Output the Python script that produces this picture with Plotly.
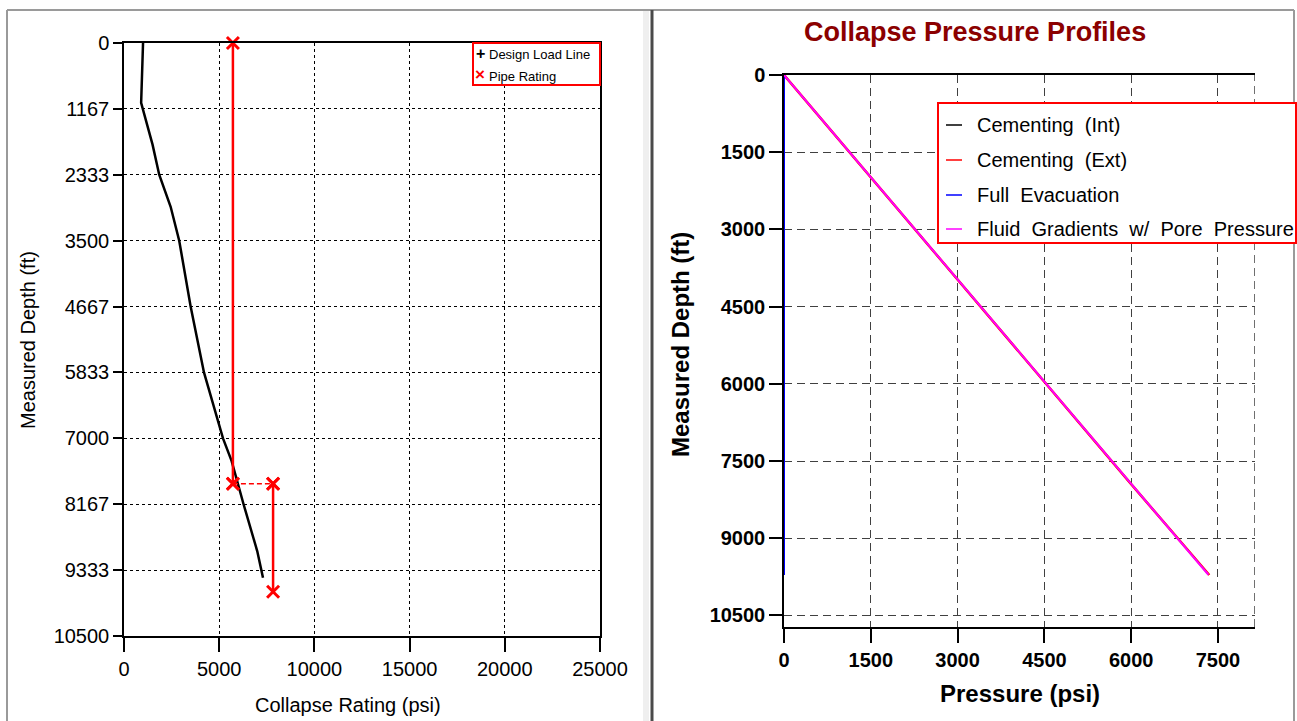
import plotly.graph_objects as go

# ---------------- data ----------------
# Left panel: collapse design check
depth_ticks = [0, 1167, 2333, 3500, 4667, 5833, 7000, 8167, 9333, 10500]
rating_ticks = [0, 5000, 10000, 15000, 20000, 25000]

design_load_psi = [1000, 950, 900, 1500, 1850, 2450, 2900, 3500, 4200, 5200, 5650, 6280, 7000, 7300]
design_load_depth = [0, 500, 1060, 1800, 2333, 2900, 3500, 4667, 5833, 7000, 7400, 8167, 9000, 9469]

pipe_rating_upper_psi = [5720, 5720]
pipe_rating_upper_depth = [0, 7805]
pipe_rating_step_psi = [5720, 7830]
pipe_rating_step_depth = [7805, 7805]
pipe_rating_lower_psi = [7830, 7830]
pipe_rating_lower_depth = [7805, 9717]

# Right panel: collapse pressure profiles
pressure_ticks = [0, 1500, 3000, 4500, 6000, 7500]
profile_depth_ticks = [0, 1500, 3000, 4500, 6000, 7500, 9000, 10500]

cement_int_psi = [0, 0]
cement_int_depth = [0, 9715]
cement_ext_psi = [0, 6000, 7350]
cement_ext_depth = [0, 7950, 9715]
full_evac_psi = [0, 0]
full_evac_depth = [0, 9715]
pore_psi = [0, 6000, 7335]
pore_depth = [0, 7935, 9710]

profile_names = ["Cementing  (Int)", "Cementing  (Ext)", "Full  Evacuation",
                 "Fluid  Gradients  w/  Pore  Pressure"]
profile_colors = ["black", "red", "blue", "magenta"]

# ---------------- layout helpers ----------------
W, H = 1297, 721


def px(x):
    return x / W


def py(y):
    return 1 - y / H


FONT = "Arial, Liberation Sans, sans-serif"

fig = go.Figure()

# ---- left panel traces ----
fig.add_trace(go.Scatter(x=design_load_psi, y=design_load_depth, mode="lines",
                         line=dict(color="black", width=2.5), name="Design Load Line",
                         showlegend=False, xaxis="x", yaxis="y"))
rating_marker = dict(symbol="x-thin", size=12, line=dict(color="red", width=3))
fig.add_trace(go.Scatter(x=pipe_rating_upper_psi, y=pipe_rating_upper_depth, mode="lines+markers",
                         line=dict(color="red", width=2.5), marker=rating_marker, cliponaxis=False,
                         name="Pipe Rating", showlegend=False, xaxis="x", yaxis="y"))
fig.add_trace(go.Scatter(x=pipe_rating_step_psi, y=pipe_rating_step_depth, mode="lines+markers",
                         line=dict(color="red", width=1.5, dash="5px,3px"), marker=rating_marker,
                         cliponaxis=False, name="Pipe Rating", showlegend=False, xaxis="x", yaxis="y"))
fig.add_trace(go.Scatter(x=pipe_rating_lower_psi, y=pipe_rating_lower_depth, mode="lines+markers",
                         line=dict(color="red", width=2.5), marker=rating_marker, cliponaxis=False,
                         name="Pipe Rating", showlegend=False, xaxis="x", yaxis="y"))

# ---- right panel traces ----
profile_data = [(cement_int_psi, cement_int_depth, 2), (cement_ext_psi, cement_ext_depth, 2.5),
                (full_evac_psi, full_evac_depth, 2), (pore_psi, pore_depth, 2)]
for name, color, (xs, ys, width) in zip(profile_names, profile_colors, profile_data):
    fig.add_trace(go.Scatter(x=xs, y=ys, mode="lines", name=name,
                             line=dict(color=color, width=width),
                             showlegend=False, xaxis="x2", yaxis="y2"))

tick_font = dict(family=FONT, size=20, color="black")
bold_tick_font = dict(family=FONT, size=20, color="black", weight="bold")
DASH = "8px,5px"

fig.update_layout(
    width=W, height=H,
    margin=dict(l=0, r=0, t=0, b=0, autoexpand=False),
    paper_bgcolor="white", plot_bgcolor="white",
    showlegend=False,
    xaxis=dict(domain=[px(124), px(600)], range=[0, 25000], tickvals=rating_ticks, tickformat="d",
               showgrid=True, gridcolor="black", griddash="dot", gridwidth=1,
               zeroline=False, showline=True, linecolor="black", linewidth=1.5, mirror=True,
               ticks="outside", ticklen=14, tickcolor="black", tickwidth=1.5,
               tickfont=tick_font, anchor="y", automargin=False),
    yaxis=dict(domain=[py(636), py(43)], range=[10500, 0], tickvals=depth_ticks, tickformat="d",
               showgrid=True, gridcolor="black", griddash="dot", gridwidth=1,
               zeroline=False, showline=True, linecolor="black", linewidth=1.5, mirror=True,
               ticks="outside", ticklen=9, tickcolor="black", tickwidth=1.5,
               tickfont=tick_font, anchor="x", automargin=False),
    xaxis2=dict(domain=[px(784), px(1255)], range=[0, 8140], tickvals=pressure_ticks, tickformat="d",
                showgrid=True, gridcolor="#404040", griddash=DASH, gridwidth=1,
                zeroline=False, showline=True, linecolor="black", linewidth=1.5, mirror=True,
                ticks="outside", ticklen=14, tickcolor="black", tickwidth=1.5,
                tickfont=bold_tick_font, anchor="y2", automargin=False),
    yaxis2=dict(domain=[py(627), py(75)], range=[10725, 0], tickvals=profile_depth_ticks, tickformat="d",
                showgrid=True, gridcolor="#404040", griddash=DASH, gridwidth=1,
                zeroline=False, showline=True, linecolor="black", linewidth=1.5,
                ticks="outside", ticklen=13, tickcolor="black", tickwidth=1.5,
                tickfont=bold_tick_font, anchor="x2", automargin=False),
)

shapes = []
# panel frames
shapes.append(dict(type="line", xref="paper", yref="paper", x0=px(7), x1=px(1294), y0=py(10), y1=py(10),
                   line=dict(color="#9a9a9a", width=2)))
shapes.append(dict(type="line", xref="paper", yref="paper", x0=px(7), x1=px(7), y0=py(10), y1=0,
                   line=dict(color="#9a9a9a", width=2)))
shapes.append(dict(type="rect", xref="paper", yref="paper", x0=px(643), x1=px(649), y0=0, y1=py(11),
                   fillcolor="#efefef", line=dict(width=0)))
shapes.append(dict(type="line", xref="paper", yref="paper", x0=px(652), x1=px(652), y0=py(10), y1=0,
                   line=dict(color="#4a4a4a", width=3)))
shapes.append(dict(type="line", xref="paper", yref="paper", x0=px(1294), x1=px(1294), y0=py(10), y1=0,
                   line=dict(color="#9a9a9a", width=2)))
# dashed right border of the profiles plot
shapes.append(dict(type="line", xref="x2", yref="paper", x0=8140, x1=8140, y0=py(627), y1=py(75),
                   line=dict(color="#404040", width=1.5, dash=DASH)))
# left legend box
shapes.append(dict(type="rect", xref="paper", yref="paper", x0=px(473), x1=px(600), y0=py(85), y1=py(43),
                   fillcolor="white", line=dict(color="red", width=2)))
# right legend box and its line samples
shapes.append(dict(type="rect", xref="paper", yref="paper", x0=px(938), x1=px(1296), y0=py(243), y1=py(103),
                   fillcolor="white", line=dict(color="red", width=2)))
legend_rows = [125, 160, 195, 229]
for color, row in zip(profile_colors, legend_rows):
    shapes.append(dict(type="line", xref="paper", yref="paper", x0=px(946), x1=px(962),
                       y0=py(row), y1=py(row), line=dict(color=color, width=1.5)))
fig.update_layout(shapes=shapes)

annotations = [
    # left legend entries
    dict(text="<b>+</b>", x=px(480), y=py(54), font=dict(family=FONT, size=16, color="black")),
    dict(text="Design Load Line", x=px(487), y=py(55), xanchor="left",
         font=dict(family=FONT, size=13, color="black")),
    dict(text="<b>×</b>", x=px(480), y=py(75), font=dict(family=FONT, size=17, color="red")),
    dict(text="Pipe Rating", x=px(487), y=py(77), xanchor="left",
         font=dict(family=FONT, size=13, color="black")),
    # axis titles
    dict(text="Measured Depth (ft)", x=px(28), y=py(340), textangle=-90,
         font=dict(family=FONT, size=20, color="black")),
    dict(text="Collapse Rating (psi)", x=px(348), y=py(705),
         font=dict(family=FONT, size=20, color="black")),
    dict(text="<b>Collapse Pressure Profiles</b>", x=px(975), y=py(32),
         font=dict(family=FONT, size=27, color="#8B0000")),
    dict(text="<b>Measured Depth (ft)</b>", x=px(680), y=py(345), textangle=-90,
         font=dict(family=FONT, size=24, color="black")),
    dict(text="<b>Pressure (psi)</b>", x=px(1020), y=py(693),
         font=dict(family=FONT, size=24, color="black")),
]
# right legend labels
for name, row in zip(profile_names, legend_rows):
    annotations.append(dict(text=name, x=px(975), y=py(row), xanchor="left",
                            font=dict(family=FONT, size=20, color="black")))
for a in annotations:
    a.setdefault("xanchor", "center")
    a.update(xref="paper", yref="paper", showarrow=False, yanchor="middle")
fig.update_layout(annotations=annotations)

fig.write_html("out.html")
